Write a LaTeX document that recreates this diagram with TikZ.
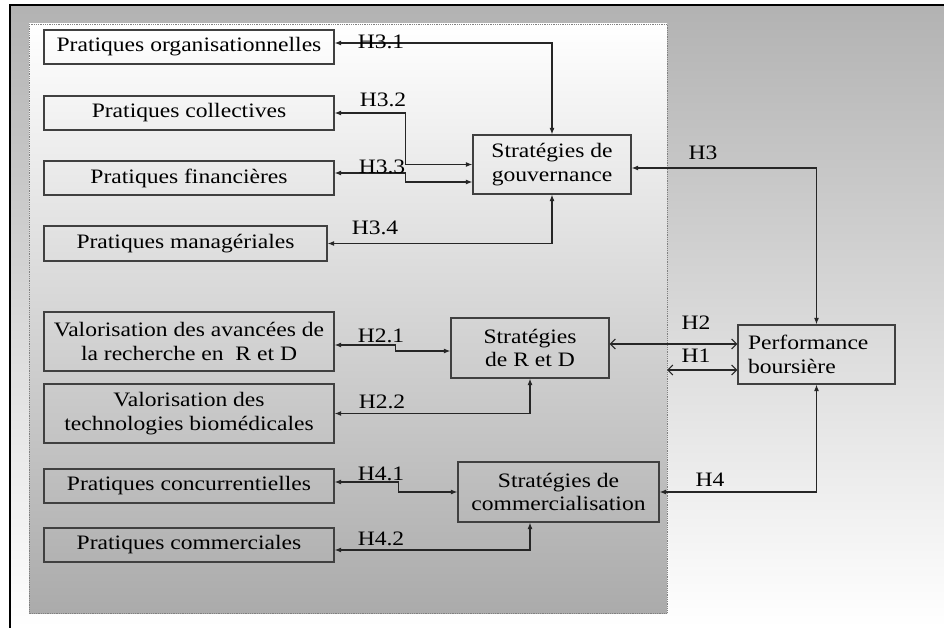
\documentclass[tikz,border=0pt]{standalone}
\usepackage{fontspec}
\setmainfont{Liberation Serif}[FakeStretch=1.15]
\usetikzlibrary{arrows.meta}
\newcommand\boxfnt{\fontsize{20.5}{23.5}\selectfont}
\newcommand\lblfnt{\fontsize{20.5}{23.5}\selectfont}
\begin{document}
\begin{tikzpicture}[x=1pt,y=-1pt,
  box/.style={draw=black!75, line width=1.3pt, inner sep=2pt, align=center, font=\boxfnt},
  conn/.style={draw=black!85, line width=1.1pt},
  both/.style={conn, {Latex[length=6.5pt,width=5pt]}-{Latex[length=6.5pt,width=5pt]}},
  open/.style={conn, {Straight Barb[length=5pt,width=10pt]}-{Straight Barb[length=5pt,width=10pt]}},
  lab/.style={font=\lblfnt, inner sep=0pt}]
\useasboundingbox (0,0) rectangle (944,628);
% backgrounds
\shade[top color=black!30, bottom color=white] (10,5) rectangle (944,628);
\shade[top color=white, bottom color=black!33] (29,24) rectangle (667,613);
\draw[black!50, line width=0.8pt, densely dotted] (29,24) rectangle (667,613);
\draw[black, line width=2.4pt] (10,628) -- (10,5.3) -- (944,5.3);
% boxes
\node[box, minimum width=290pt, minimum height=34pt] (org) at (189,47) {Pratiques organisationnelles};
\node[box, minimum width=290pt, minimum height=34pt] (col) at (189,113) {Pratiques collectives};
\node[box, minimum width=290pt, minimum height=34pt] (fin) at (189,178) {Pratiques financières};
\node[box, minimum width=283pt, minimum height=35pt] (man) at (185.5,243.5) {Pratiques managériales};
\node[box, minimum width=158pt, minimum height=59pt] (gov) at (552,164.5) {Stratégies de\\gouvernance};
\node[box, minimum width=290pt, minimum height=59pt] (v1) at (189,341.5) {Valorisation des avancées de\\la recherche en\ \ R et D};
\node[box, minimum width=290pt, minimum height=59pt] (v2) at (189,413.5) {Valorisation des\\technologies biomédicales};
\node[box, minimum width=290pt, minimum height=34pt] (conc) at (189,486) {Pratiques concurrentielles};
\node[box, minimum width=290pt, minimum height=34pt] (cm) at (189,545) {Pratiques commerciales};
\node[box, minimum width=158pt, minimum height=60pt] (rd) at (530,348) {Stratégies\\de R et D};
\node[box, minimum width=201pt, minimum height=60pt] (com) at (558.5,492) {Stratégies de\\commercialisation};
\node[box, minimum height=59pt, text width=137pt, inner xsep=10pt, align=left] (perf) at (816.5,354.5) {Performance\\boursière};
\coordinate (h1s) at (667,370);
% connectors
\draw[both] ([yshift=4pt]org.east) -| (gov.north);
\draw[both] (col.east) -- ++(71,0) |- (gov.west);
\draw[both] ([yshift=5pt]fin.east) -- ++(71,0) |- ([yshift=-17.5pt]gov.west);
\draw[both] (man.east) -| (gov.south);
\draw[both] ([yshift=-3.5pt]gov.east) -| (perf.north);
\draw[both] ([yshift=-3.5pt]v1.east) -- ++(61,0) |- ([yshift=-3pt]rd.west);
\draw[both] (v2.east) -| (rd.south);
\draw[open] ([yshift=4pt]rd.east) -- ([yshift=10.5pt]perf.west);
\draw[open] (h1s) -- ([yshift=-15.5pt]perf.west);
\draw[both] ([yshift=4pt]conc.east) -- ++(64,0) |- (com.west);
\draw[both] ([yshift=-5pt]cm.east) -| ([xshift=-28.5pt]com.south);
\draw[both] (com.east) -| (perf.south);
% labels
\node[lab] (l31) at (381,42) {H3.1};
\node[lab] (l32) at (383,100) {H3.2};
\node[lab] (l33) at (382,167) {H3.3};
\node[lab] (l34) at (375,228) {H3.4};
\node[lab] (l3) at (703,153) {H3};
\node[lab] (l21) at (381,336) {H2.1};
\node[lab] (l22) at (382,402) {H2.2};
\node[lab] (l2) at (696,323) {H2};
\node[lab] (l1) at (696,356) {H1};
\node[lab] (l41) at (381,474) {H4.1};
\node[lab] (l42) at (381,539) {H4.2};
\node[lab] (l4) at (710,480) {H4};
\end{tikzpicture}
\end{document}
